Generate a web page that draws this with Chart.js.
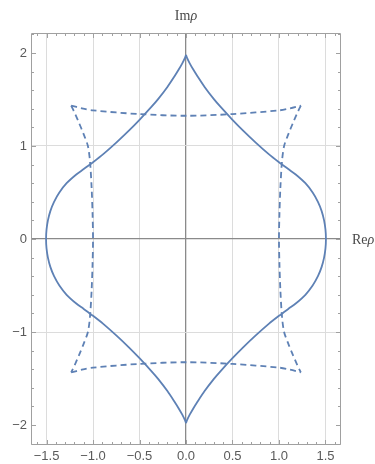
<!DOCTYPE html>
<html>
<head>
<meta charset="utf-8">
<script src="https://cdn.jsdelivr.net/npm/chart.js@4/dist/chart.umd.min.js"></script>
<style>
  html, body { margin: 0; padding: 0; background: #fff; }
</style>
</head>
<body>
<canvas id="grafico" width="375" height="464"></canvas>
<script>
// curva continua, mitad derecha (de la cúspide superior a la inferior)
const solidRightX = [0, 0.01, 0.04, 0.08, 0.115, 0.2, 0.3, 0.37, 0.5, 0.62, 0.75, 0.89, 1.0, 1.1, 1.18, 1.284, 1.362, 1.419, 1.459, 1.485, 1.5, 1.505,
  1.5, 1.485, 1.459, 1.419, 1.362, 1.284, 1.18, 1.1, 1.0, 0.89, 0.75, 0.62, 0.5, 0.37, 0.3, 0.2, 0.115, 0.08, 0.04, 0.01, 0];
const solidRightY = [1.98, 1.951, 1.889, 1.819, 1.763, 1.635, 1.504, 1.423, 1.282, 1.16, 1.037, 0.913, 0.826, 0.752, 0.694, 0.6, 0.5, 0.4, 0.3, 0.2, 0.1, 0,
  -0.1, -0.2, -0.3, -0.4, -0.5, -0.6, -0.694, -0.752, -0.826, -0.913, -1.037, -1.16, -1.282, -1.423, -1.504, -1.635, -1.763, -1.819, -1.889, -1.951, -1.98];
// mitad izquierda
const solidLeftX = [0, -0.01, -0.04, -0.08, -0.115, -0.2, -0.3, -0.37, -0.5, -0.62, -0.75, -0.89, -1.0, -1.1, -1.18, -1.284, -1.362, -1.419, -1.459, -1.485, -1.5, -1.505,
  -1.5, -1.485, -1.459, -1.419, -1.362, -1.284, -1.18, -1.1, -1.0, -0.89, -0.75, -0.62, -0.5, -0.37, -0.3, -0.2, -0.115, -0.08, -0.04, -0.01, 0];
const solidLeftY = solidRightY;

// contorno discontinuo: cuatro lados
const dashTopX = [-1.235, -1.12, -1.0, -0.5, 0, 0.5, 1.0, 1.12, 1.235];
const dashTopY = [1.435, 1.405, 1.383, 1.343, 1.325, 1.343, 1.383, 1.405, 1.435];
const dashBottomX = dashTopX;
const dashBottomY = [-1.435, -1.405, -1.383, -1.343, -1.325, -1.343, -1.383, -1.405, -1.435];
const dashRightX = [1.235, 1.19, 1.147, 1.10, 1.055, 1.032, 1.015, 1.005, 1.0, 1.005, 1.015, 1.032, 1.055, 1.10, 1.147, 1.19, 1.235];
const dashRightY = [1.435, 1.34, 1.24, 1.125, 1.0, 0.83, 0.55, 0.27, 0, -0.27, -0.55, -0.83, -1.0, -1.125, -1.24, -1.34, -1.435];
const dashLeftX = [-1.235, -1.19, -1.147, -1.10, -1.055, -1.032, -1.015, -1.005, -1.0, -1.005, -1.015, -1.032, -1.055, -1.10, -1.147, -1.19, -1.235];
const dashLeftY = dashRightY;

// marcas de los ejes
const xTicks = [-1.5, -1.0, -0.5, 0, 0.5, 1.0, 1.5];
const xTickLabels = ["\u22121.5", "\u22121.0", "\u22120.5", "0.0", "0.5", "1.0", "1.5"];
const yTicks = [-2, -1, 0, 1, 2];
const yTickLabels = ["\u22122", "\u22121", "0", "1", "2"];
const yGridValues = [-1, 1];

const azul = '#5e81b5';
const colorGrid = '#dcdcdc';
const colorEje = '#8a8a8a';
const colorMarco = '#a0a0a0';
const colorTexto = '#5a5a5a';

function puntos(xs, ys) {
  return xs.map((x, i) => ({ x, y: ys[i] }));
}

function serie(xs, ys, discontinua) {
  return {
    data: puntos(xs, ys),
    showLine: true,
    borderColor: azul,
    borderWidth: 1.8,
    borderDash: discontinua ? [6, 4] : [],
    pointRadius: 0,
    tension: 0.3,
    fill: false
  };
}

// marco, marcas menores y títulos de los ejes
const marcoPlugin = {
  id: 'marco',
  afterDatasetsDraw(chart) {
    const { ctx, chartArea: a, scales: { x, y } } = chart;
    const L = Math.round(a.left) + 0.5, R = Math.round(a.right) - 0.5;
    const T = Math.round(a.top) + 0.5, B = Math.round(a.bottom) - 0.5;
    ctx.save();
    ctx.strokeStyle = colorMarco;
    ctx.lineWidth = 1;
    ctx.beginPath();
    ctx.rect(L, T, R - L, B - T);
    ctx.stroke();

    ctx.beginPath();
    for (let k = -16; k <= 16; k++) {
      const px = Math.round(x.getPixelForValue(k / 10)) + 0.5;
      const len = k % 5 === 0 ? 4.5 : 2.5;
      ctx.moveTo(px, B); ctx.lineTo(px, B - len);
      ctx.moveTo(px, T); ctx.lineTo(px, T + len);
    }
    for (let k = -11; k <= 11; k++) {
      const py = Math.round(y.getPixelForValue(k / 5)) + 0.5;
      const len = k % 5 === 0 ? 4.5 : 2.5;
      ctx.moveTo(L, py); ctx.lineTo(L + len, py);
      ctx.moveTo(R, py); ctx.lineTo(R - len, py);
    }
    ctx.stroke();

    // títulos: "Im ρ" arriba, "Re ρ" a la derecha
    ctx.fillStyle = '#4a4a4a';
    ctx.textBaseline = 'alphabetic';
    const recto = '14px "Liberation Serif", "DejaVu Serif", serif';
    const cursiva = 'italic 14px "Liberation Serif", "DejaVu Serif", serif';
    function titulo(a1, a2, xIni, base, centrar) {
      ctx.font = recto;
      const w1 = ctx.measureText(a1).width;
      ctx.font = cursiva;
      const w2 = ctx.measureText(a2).width;
      const x0 = centrar ? xIni - (w1 + w2) / 2 : xIni;
      ctx.font = recto;
      ctx.textAlign = 'left';
      ctx.fillText(a1, x0, base);
      ctx.font = cursiva;
      ctx.fillText(a2, x0 + w1, base);
    }
    titulo('Im', '\u03c1', x.getPixelForValue(0), 20, true);
    titulo('Re', '\u03c1', 352, y.getPixelForValue(0) + 4.5, false);
    ctx.restore();
  }
};

const ctx = document.getElementById('grafico').getContext('2d');
new Chart(ctx, {
  type: 'scatter',
  data: {
    datasets: [
      serie(solidRightX, solidRightY, false),
      serie(solidLeftX, solidLeftY, false),
      serie(dashTopX, dashTopY, true),
      serie(dashRightX, dashRightY, true),
      serie(dashBottomX, dashBottomY, true),
      serie(dashLeftX, dashLeftY, true)
    ]
  },
  options: {
    responsive: false,
    animation: false,
    layout: { padding: { top: 33, right: 34, left: 0, bottom: 0 } },
    plugins: { legend: { display: false }, tooltip: { enabled: false } },
    scales: {
      x: {
        type: 'linear',
        min: -1.667,
        max: 1.667,
        afterBuildTicks: s => { s.ticks = xTicks.map(v => ({ value: v })); },
        afterFit: s => { s.height = 19; },
        border: { display: false },
        grid: {
          drawTicks: false,
          color: c => (c.tick && c.tick.value === 0 ? colorEje : colorGrid),
          lineWidth: c => (c.tick && c.tick.value === 0 ? 1.3 : 1)
        },
        ticks: {
          padding: 4,
          color: colorTexto,
          font: { family: '"Liberation Sans", Arial, sans-serif', size: 13 },
          maxRotation: 0,
          callback: (v, i) => xTickLabels[i]
        }
      },
      y: {
        type: 'linear',
        min: -2.215,
        max: 2.215,
        afterBuildTicks: s => { s.ticks = yTicks.map(v => ({ value: v })); },
        afterFit: s => { s.width = 31; },
        border: { display: false },
        grid: {
          drawTicks: false,
          color: c => {
            if (!c.tick) return 'rgba(0,0,0,0)';
            if (c.tick.value === 0) return colorEje;
            return yGridValues.includes(c.tick.value) ? colorGrid : 'rgba(0,0,0,0)';
          },
          lineWidth: c => (c.tick && c.tick.value === 0 ? 1.3 : 1)
        },
        ticks: {
          padding: 4,
          color: colorTexto,
          font: { family: '"Liberation Sans", Arial, sans-serif', size: 13 },
          callback: (v, i) => yTickLabels[i]
        }
      }
    }
  },
  plugins: [marcoPlugin]
});
</script>
</body>
</html>
